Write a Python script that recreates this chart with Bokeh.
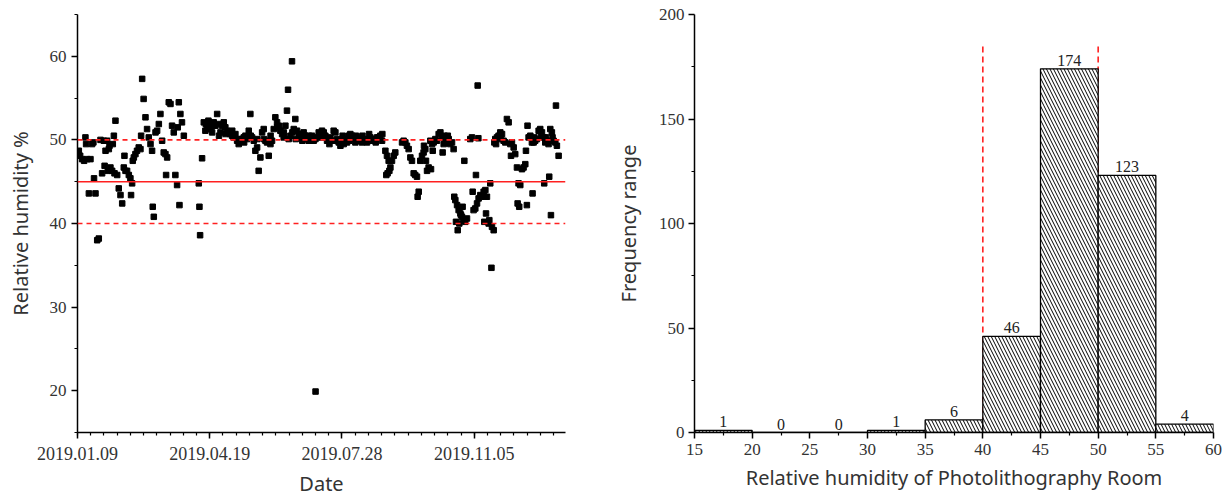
import pandas as pd
from bokeh.plotting import figure
from bokeh.layouts import row
from bokeh.models import FixedTicker, Span, Range1d
from bokeh.core.properties import value
from bokeh.embed import file_html
from bokeh.resources import INLINE

# ---------------- data: daily relative humidity (days after start date) ----------------
START_DATE = "2019-01-09"

day_q1 = [1, 2, 3.5, 5, 6, 6.5, 7.3, 8.6, 9.8, 11,
          12, 12.5, 13.6, 14.9, 16.1, 17.4, 18.6, 19.9, 20.5, 21.2,
          22.4, 22.9, 23.7, 24.2, 24.9, 26.2, 26.7, 27.5, 28, 28.7,
          30, 31.2, 32.5, 33.8, 35, 35.5, 36.3, 37.5, 38.8, 40,
          40.5, 41.3, 41.8, 42.6, 43.8, 45, 46.3, 47.6, 48.1, 48.9,
          50, 51.4, 52.6, 53.9, 55.2, 56.4, 56.9, 57.7, 59, 60.2,
          61.5, 62.7, 64, 65.2, 66.5, 67, 67.8, 69, 70.3, 71.5,
          72.8, 74, 75.3, 75.8, 76.6, 77.1, 77.8, 79, 80.4, 91.7,
          92.2, 92.7]
rh_q1 = [48.7, 48.1, 47.7, 47.5, 50.3, 49.5, 47.7, 43.6, 47.7, 49.5,
         49.7, 45.4, 43.6, 38.0, 38.2, 50.0, 46.0, 49.9, 46.9, 48.7,
         49.9, 46.3, 48.9, 49.3, 46.7, 46.3, 49.5, 50.5, 46.0, 52.3,
         45.8, 44.2, 43.4, 42.4, 46.7, 48.1, 46.3, 46.3, 45.8, 45.4,
         43.4, 44.8, 47.5, 47.9, 48.3, 48.7, 49.1, 48.9, 50.5, 57.3,
         54.9, 52.7, 51.3, 50.3, 49.5, 48.7, 42.0, 40.8, 50.9, 51.1,
         51.9, 53.1, 49.9, 48.5, 48.3, 45.8, 47.9, 54.5, 54.3, 51.7,
         50.9, 45.8, 44.6, 51.5, 54.5, 42.2, 53.1, 52.1, 50.5, 44.8,
         42.0, 38.6]

day_q2 = [94.2, 95.5, 96.7, 97, 98, 99, 99.3, 100.5, 101.8, 102,
          103, 104.3, 105.6, 106.8, 107, 108.1, 109.3, 110.6, 111.8, 112,
          113.1, 114.4, 115.6, 116.9, 117, 118.1, 119.4, 120.7, 121.9, 122,
          123.2, 124.4, 125.7, 126, 127, 128.2, 129.5, 130.7, 131, 132,
          133.3, 134.5, 135.8, 136, 137, 138.3, 139.6, 140.8, 141, 142.1,
          143.3, 144.6, 145.9, 146, 147.1, 148.4, 149.6, 150.9, 151, 152.2,
          153.4, 154.7, 155.9, 156, 157.2, 158.4, 159.2, 159.7, 161, 162.2,
          162.5, 163.5, 164.7, 165, 166, 167.3, 168.5, 169.8, 170, 171,
          172.3, 173.6, 174.8, 175, 176]
rh_q2 = [47.8, 52.1, 51.1, 51.9, 51.5, 52.3, 51.9, 51.3, 50.9, 51.7,
         52.1, 51.7, 53.1, 51.9, 50.5, 50.9, 51.7, 52.1, 51.5, 50.7,
         51.1, 50.9, 50.7, 50.5, 51.1, 50.3, 50.7, 49.9, 49.5, 50.1,
         49.9, 50.1, 50.3, 49.7, 50.5, 50.1, 51.1, 53.1, 50.5, 50.3,
         49.9, 48.7, 49.1, 50.1, 46.3, 47.9, 50.9, 51.3, 50.1, 49.9,
         49.7, 48.1, 49.5, 50.5, 49.9, 51.3, 52.7, 52.1, 51.5, 51.7,
         51.1, 50.7, 50.3, 50.9, 51.7, 53.5, 56.0, 50.1, 50.5, 59.4,
         50.9, 51.3, 52.5, 50.1, 51.1, 50.7, 50.3, 50.7, 49.9, 50.9,
         50.5, 50.1, 49.9, 50.5, 50.3]

day_q3 = [177.3, 178.6, 179.9, 180, 181.1, 182.4, 183.7, 184.9, 185, 186.2,
          187.4, 188.7, 190, 190.5, 191.2, 192.5, 193.7, 195, 195.5, 196.3,
          197.5, 198.8, 200, 200.5, 201.3, 202.5, 203.8, 205.1, 205.5, 206.3,
          207.6, 208.8, 210.1, 210.5, 211.4, 212.6, 213.9, 215.1, 215.5, 216.4,
          217.7, 218.9, 220.2, 220.5, 221.4, 222.7, 224, 225.2, 225.5, 226.5,
          227.7, 229, 230.3, 230.5, 232.8, 233.5, 234, 234.5, 235.3, 235.8,
          236.6, 237.8, 239.1, 240.3, 245.4, 246.6, 247.9, 249.1, 250.4, 251.7,
          252.9, 254.2, 255.4, 256.7, 257.2, 258, 259.2, 260.5, 261.7, 262,
          263, 263.5, 264.3, 265.5]
rh_q3 = [50.5, 49.9, 50.1, 19.9, 50.3, 50.9, 50.7, 51.1, 50.3, 50.9,
         50.5, 49.9, 50.1, 49.5, 50.3, 49.9, 51.1, 50.9, 49.9, 50.1,
         49.7, 49.3, 49.9, 50.5, 49.5, 50.1, 49.7, 50.5, 49.9, 50.7,
         50.5, 50.1, 49.7, 50.5, 50.3, 49.9, 50.1, 49.7, 50.5, 49.9,
         50.1, 49.7, 49.9, 50.7, 50.3, 50.1, 49.9, 50.1, 49.7, 50.3,
         50.3, 50.5, 49.9, 50.7, 48.7, 45.8, 48.1, 46.0, 47.5, 46.3,
         46.7, 47.5, 48.1, 48.5, 49.7, 49.9, 49.7, 49.3, 48.9, 47.9,
         47.5, 46.0, 45.8, 45.6, 43.2, 43.8, 47.5, 48.1, 48.5, 49.3,
         48.9, 47.5, 46.3, 46.7]

day_q4 = [266.8, 267.3, 268.1, 268.6, 269.3, 270.6, 271.8, 273.1, 274.4, 275.6,
          276.1, 276.9, 277.5, 278.1, 279.4, 280, 280.7, 281.9, 283.2, 284.4,
          284.9, 285.7, 286.2, 287, 287.5, 288.2, 288.7, 289.5, 290, 290.7,
          291.2, 292, 292.5, 293.2, 294.5, 297, 298.3, 298.8, 299.5, 300.8,
          301.3, 302.1, 302.6, 303.1, 303.3, 304.6, 305.8, 307.1, 307.6, 308.4,
          308.9, 309.6, 310.9, 311.4, 312.1, 313, 313.4, 314.7, 315.2, 315.9,
          316.5, 317.2, 318.4, 319.7, 320.2, 321, 322.2, 323.5, 324.7, 326,
          327.3, 327.8, 328.5, 329.8, 331, 332.3, 332.8, 333.5, 334, 334.8,
          336.1, 337.3, 338.6, 339.1, 339.8, 340.3, 341.1, 342.4, 343.6, 344.1,
          344.9, 345.4, 346.1, 347.4, 348.7, 349.9, 350.4, 351.2, 352.4, 352.9,
          353.7, 354.2, 355, 356.2, 356.7, 357.5, 358, 358.7, 359.2, 360,
          361.3, 361.8, 362.5, 363.8]
rh_q4 = [49.9, 46.5, 49.5, 48.7, 49.7, 50.1, 49.9, 50.7, 50.9, 50.3,
         48.5, 49.5, 50.5, 49.7, 49.9, 50.5, 50.1, 49.5, 49.7, 48.9,
         43.2, 42.8, 40.2, 42.2, 39.2, 41.6, 40.0, 41.2, 41.0, 40.8,
         42.0, 40.4, 47.5, 40.2, 40.6, 50.1, 50.3, 43.8, 41.6, 41.8,
         45.8, 42.4, 56.5, 50.2, 43.0, 43.4, 43.2, 43.8, 40.2, 44.0,
         41.2, 43.2, 40.0, 40.4, 44.8, 34.7, 39.6, 39.2, 49.7, 50.1,
         49.5, 50.3, 50.5, 50.9, 50.1, 50.7, 49.9, 49.7, 52.5, 52.1,
         49.5, 48.1, 49.7, 49.1, 48.3, 46.7, 42.4, 44.8, 42.0, 44.6,
         46.5, 46.7, 47.1, 48.7, 42.2, 51.7, 50.3, 50.5, 49.7, 43.6,
         49.7, 50.3, 49.9, 50.1, 51.1, 51.3, 50.5, 50.9, 50.3, 44.8,
         49.7, 50.3, 49.9, 49.5, 45.6, 51.3, 41.0, 50.9, 50.3, 49.9,
         49.7, 54.1, 49.3, 48.1]

date_tick_labels = ["2019.01.09", "2019.04.19", "2019.07.28", "2019.11.05"]
rh_target = 45
rh_limits = [40, 50]

# histogram
bin_edges = [15, 20, 25, 30, 35, 40, 45, 50, 55, 60]
counts = [1, 0, 0, 1, 6, 46, 174, 123, 4]
spec_line_top = 186

# ---------------- assemble ----------------
days = day_q1 + day_q2 + day_q3 + day_q4
rh = rh_q1 + rh_q2 + rh_q3 + rh_q4
assert len(days) == len(rh)

start = pd.Timestamp(START_DATE)
tick_days = [(pd.Timestamp(s.replace(".", "-")) - start).days for s in date_tick_labels]

TICK_FONT = "Liberation Serif"
LABEL_FONT = "Noto Sans"


def style_axis(ax, tick_size="17px"):
    ax.axis_line_width = 1.5
    ax.axis_line_color = "black"
    ax.major_tick_line_width = 1.5
    ax.major_tick_line_color = "black"
    ax.minor_tick_line_width = 1.2
    ax.minor_tick_line_color = "black"
    ax.major_tick_in = 0
    ax.major_tick_out = 6
    ax.minor_tick_in = 0
    ax.minor_tick_out = 3
    ax.major_label_text_font = TICK_FONT
    ax.major_label_text_font_size = tick_size
    ax.major_label_text_color = "#333333"
    ax.axis_label_text_font = LABEL_FONT
    ax.axis_label_text_font_size = "20px"
    ax.axis_label_text_font_style = "normal"
    ax.axis_label_text_color = "#333333"


# ---------------- left: scatter ----------------
p1 = figure(width=600, height=500, output_backend="svg", toolbar_location=None,
            x_range=Range1d(0, 369), y_range=Range1d(15, 65),
            min_border_left=77, min_border_right=35, min_border_top=14, min_border_bottom=68)
p1.outline_line_color = None
p1.grid.visible = False

p1.add_layout(Span(location=rh_target, dimension="width", line_color="#ff2020", line_width=1.6))
for lim in rh_limits:
    p1.add_layout(Span(location=lim, dimension="width", line_color="#ff2020",
                       line_width=1.6, line_dash="5 4"))

p1.scatter(days, rh, marker="square", size=5.5, color="black")

xa = p1.xaxis[0]
xa.ticker = FixedTicker(ticks=tick_days, minor_ticks=list(range(0, 370, 10)))
xa.major_label_overrides = {d: s for d, s in zip(tick_days, date_tick_labels)}
xa.axis_label = "Date"
style_axis(xa, "18px")
xa.major_label_standoff = 8
xa.axis_label_standoff = 7

ya = p1.yaxis[0]
ya.ticker = FixedTicker(ticks=[20, 30, 40, 50, 60], minor_ticks=[15, 25, 35, 45, 55, 65])
ya.axis_label = "Relative humidity %"
style_axis(ya)
ya.major_label_standoff = 5
ya.axis_label_standoff = 13

# ---------------- right: histogram ----------------
p2 = figure(width=626, height=500, output_backend="svg", toolbar_location=None,
            x_range=Range1d(15, 60), y_range=Range1d(0, 200),
            min_border_left=94, min_border_right=13, min_border_top=10, min_border_bottom=63)
p2.outline_line_color = None
p2.grid.visible = False

p2.segment(x0=rh_limits, y0=[0, 0], x1=rh_limits, y1=[spec_line_top] * len(rh_limits),
           line_color="#ff2020", line_width=1.6, line_dash="6 4")

p2.quad(left=bin_edges[:-1], right=bin_edges[1:], bottom=0, top=counts,
        fill_color="white", line_color="black", line_width=1.3,
        hatch_pattern="\\", hatch_color="black", hatch_scale=7, hatch_weight=1)

centers = [(a + b) / 2 for a, b in zip(bin_edges[:-1], bin_edges[1:])]
p2.text(x=centers, y=counts, text=[str(c) for c in counts],
        text_align="center", text_baseline="bottom", y_offset=-3,
        text_font=value(TICK_FONT), text_font_size="16px", text_color="#222222")

xb = p2.xaxis[0]
xb.ticker = FixedTicker(ticks=bin_edges, minor_ticks=[e + 2.5 for e in bin_edges[:-1]])
xb.axis_label = "Relative humidity of Photolithography Room"
style_axis(xb)
xb.major_label_standoff = 5
xb.axis_label_standoff = 6

yb = p2.yaxis[0]
yb.ticker = FixedTicker(ticks=[0, 50, 100, 150, 200], minor_ticks=[25, 75, 125, 175])
yb.axis_label = "Frequency range"
style_axis(yb)
yb.major_label_standoff = 4
yb.axis_label_standoff = 14

layout = row(p1, p2)
open("out.html", "w").write(file_html(layout, INLINE))
